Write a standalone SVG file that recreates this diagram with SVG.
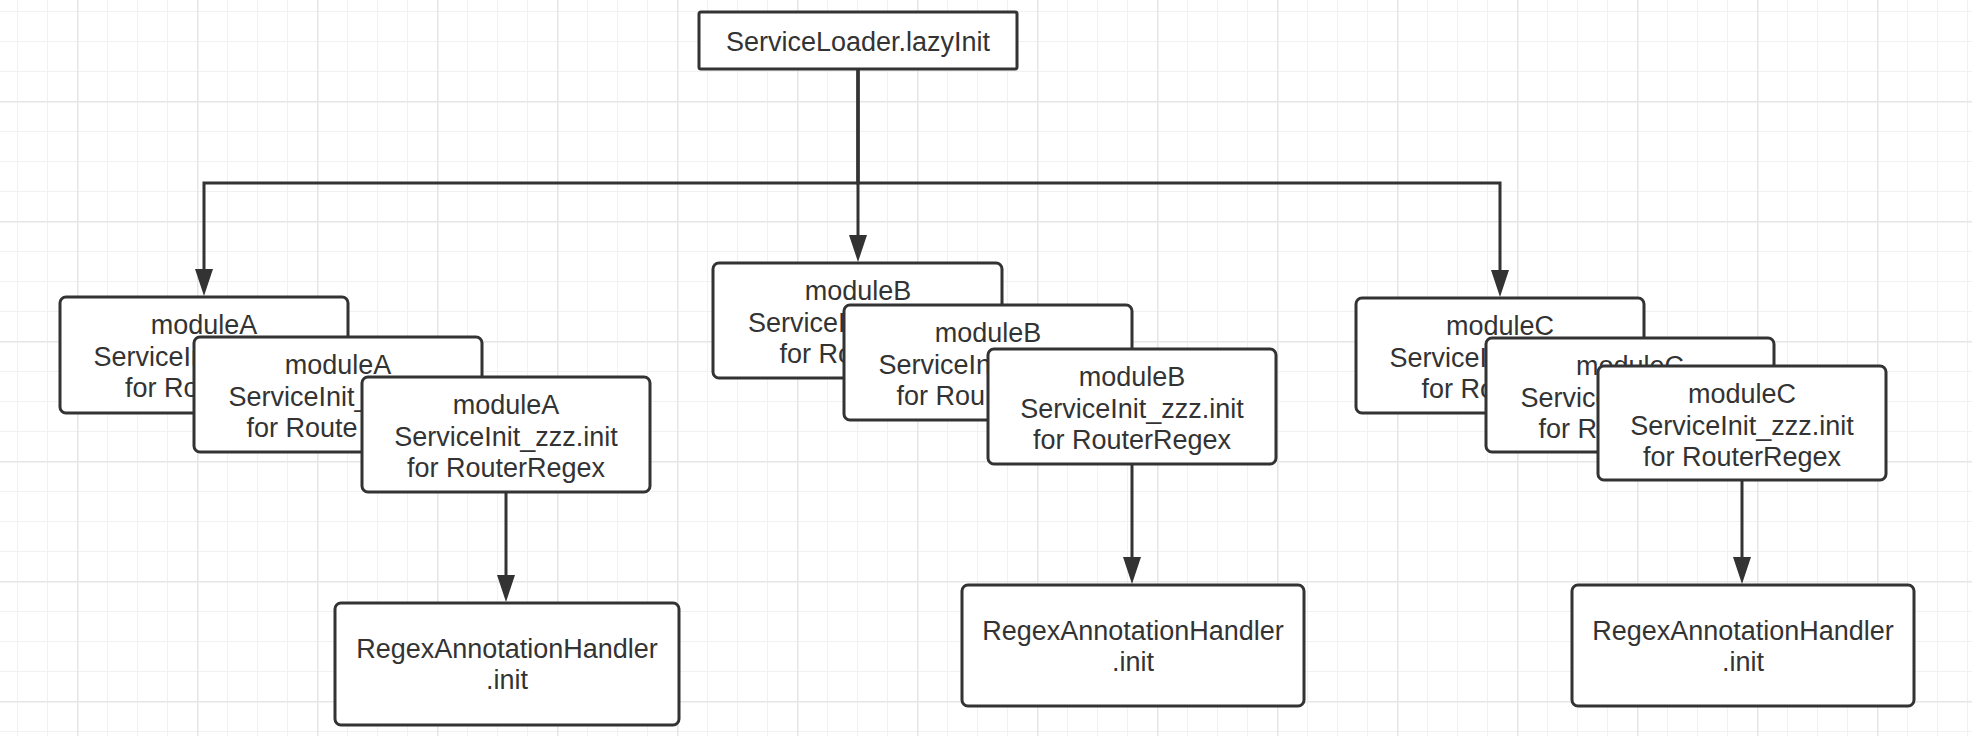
<svg xmlns="http://www.w3.org/2000/svg" width="1972" height="736" viewBox="0 0 1972 736">
  <defs>
    <pattern id="gridMinor" patternUnits="userSpaceOnUse" x="17" y="11" width="30" height="30">
      <rect x="0" y="0" width="1" height="30" fill="#f1f1f1"/>
      <rect x="0" y="0" width="30" height="1" fill="#f1f1f1"/>
    </pattern>
    <pattern id="gridMajor" patternUnits="userSpaceOnUse" x="77" y="101" width="120" height="120">
      <rect x="0" y="0" width="1.5" height="120" fill="#e6e6e6"/>
      <rect x="0" y="0" width="120" height="1.5" fill="#e6e6e6"/>
    </pattern>
    <marker id="arrow" markerUnits="userSpaceOnUse" markerWidth="28" markerHeight="18" refX="17" refY="9" orient="auto">
      <path d="M0,0 L27,9 L0,18 z" fill="#333333"/>
    </marker>
  </defs>
  <style>
    .box { fill: #ffffff; stroke: #333333; stroke-width: 3; }
    .lbl { font-family: "Liberation Sans", Arial, sans-serif; font-size: 27px; fill: #333333; text-anchor: middle; }
    .lbs { font-family: "Liberation Sans", Arial, sans-serif; font-size: 27px; fill: #333333; text-anchor: start; }
    .conn { fill: none; stroke: #333333; stroke-width: 3; }
  </style>
  <rect x="0" y="0" width="1972" height="736" fill="#ffffff"/>
  <rect x="0" y="0" width="1972" height="736" fill="url(#gridMinor)"/>
  <rect x="0" y="0" width="1972" height="736" fill="url(#gridMajor)"/>

  <g id="node-serviceloader">
    <rect class="box" x="699" y="12" width="318" height="57" rx="2"/>
    <text class="lbl" x="858" y="51">ServiceLoader.lazyInit</text>
  </g>

  <g id="node-moduleA-1">
    <rect class="box" x="60" y="297" width="288" height="116" rx="6"/>
    <text class="lbl" x="204" y="334">moduleA</text>
    <text class="lbs" x="93.5" y="366">ServiceIn</text>
    <text class="lbs" x="125" y="397">for Ro</text>
  </g>
  <g id="node-moduleA-2">
    <rect class="box" x="194" y="337" width="288" height="115" rx="6"/>
    <text class="lbl" x="338" y="374">moduleA</text>
    <text class="lbs" x="228.5" y="406">ServiceInit_</text>
    <text class="lbs" x="246.5" y="437">for Route</text>
  </g>
  <g id="node-moduleA-3">
    <rect class="box" x="362" y="377" width="288" height="115" rx="6"/>
    <text class="lbl" x="506" y="414">moduleA</text>
    <text class="lbl" x="506" y="446">ServiceInit_zzz.init</text>
    <text class="lbl" x="506" y="477">for RouterRegex</text>
  </g>

  <g id="node-moduleB-1">
    <rect class="box" x="713" y="263" width="289" height="115" rx="6"/>
    <text class="lbl" x="858" y="300">moduleB</text>
    <text class="lbs" x="748" y="332">ServiceI</text>
    <text class="lbs" x="779.5" y="363">for Ro</text>
  </g>
  <g id="node-moduleB-2">
    <rect class="box" x="844" y="305" width="288" height="115" rx="6"/>
    <text class="lbl" x="988" y="342">moduleB</text>
    <text class="lbs" x="878.5" y="374">ServiceIn</text>
    <text class="lbs" x="896.5" y="405">for Rou</text>
  </g>
  <g id="node-moduleB-3">
    <rect class="box" x="988" y="349" width="288" height="115" rx="6"/>
    <text class="lbl" x="1132" y="386">moduleB</text>
    <text class="lbl" x="1132" y="418">ServiceInit_zzz.init</text>
    <text class="lbl" x="1132" y="449">for RouterRegex</text>
  </g>

  <g id="node-moduleC-1">
    <rect class="box" x="1356" y="298" width="288" height="115" rx="6"/>
    <text class="lbl" x="1500" y="335">moduleC</text>
    <text class="lbs" x="1389.5" y="367">ServiceI</text>
    <text class="lbs" x="1421.5" y="398">for Ro</text>
  </g>
  <g id="node-moduleC-2">
    <rect class="box" x="1486" y="338" width="288" height="114" rx="6"/>
    <text class="lbl" x="1630" y="375">moduleC</text>
    <text class="lbs" x="1520.5" y="407">Service</text>
    <text class="lbs" x="1538.5" y="438">for R</text>
  </g>
  <g id="node-moduleC-3">
    <rect class="box" x="1598" y="366" width="288" height="114" rx="6"/>
    <text class="lbl" x="1742" y="403">moduleC</text>
    <text class="lbl" x="1742" y="435">ServiceInit_zzz.init</text>
    <text class="lbl" x="1742" y="466">for RouterRegex</text>
  </g>

  <g id="node-regexA">
    <rect class="box" x="335" y="603" width="344" height="122" rx="6"/>
    <text class="lbl" x="507" y="658">RegexAnnotationHandler</text>
    <text class="lbl" x="507" y="689">.init</text>
  </g>
  <g id="node-regexB">
    <rect class="box" x="962" y="585" width="342" height="121" rx="6"/>
    <text class="lbl" x="1133" y="640">RegexAnnotationHandler</text>
    <text class="lbl" x="1133" y="671">.init</text>
  </g>
  <g id="node-regexC">
    <rect class="box" x="1572" y="585" width="342" height="121" rx="6"/>
    <text class="lbl" x="1743" y="640">RegexAnnotationHandler</text>
    <text class="lbl" x="1743" y="671">.init</text>
  </g>

  <g id="connectors">
    <path class="conn" d="M858 69 V183 H204 V286" marker-end="url(#arrow)"/>
    <path class="conn" d="M858 69 V252" marker-end="url(#arrow)"/>
    <path class="conn" d="M858 69 V183 H1500 V287" marker-end="url(#arrow)"/>
    <path class="conn" d="M506 492 V592" marker-end="url(#arrow)"/>
    <path class="conn" d="M1132 464 V574" marker-end="url(#arrow)"/>
    <path class="conn" d="M1742 480 V574" marker-end="url(#arrow)"/>
  </g>
</svg>
